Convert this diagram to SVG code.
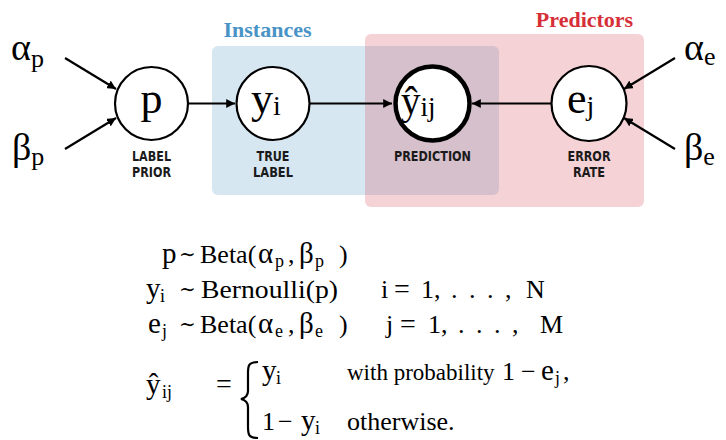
<svg xmlns="http://www.w3.org/2000/svg" width="726" height="440" viewBox="0 0 726 440">
<style>
.node{fill:#fff;stroke:#000;stroke-width:2.2}
.obs{fill:#fff;stroke:#000;stroke-width:4.5}
.edge{stroke:#000;stroke-width:2.2;fill:none}
.m{font-family:"Liberation Serif","DejaVu Serif",serif;fill:#000}
.lbl{font-family:"DejaVu Sans Condensed","Liberation Sans",sans-serif;font-weight:bold;font-size:14px;fill:#1a1a1a;text-anchor:middle}
.title{font-family:"Liberation Serif","DejaVu Serif",serif;font-weight:bold;font-size:22px;text-anchor:middle}
.eq{font-family:"Liberation Serif","DejaVu Serif",serif;font-size:26px;fill:#000}
.g{font-size:29px}
.s{font-size:18px}
.t{font-size:20px}
.q{font-size:28px}
.w{font-size:23px}
</style>
<defs>
<marker id="ah" viewBox="0 0 10 10" refX="10" refY="5" markerWidth="4" markerHeight="4" orient="auto" markerUnits="strokeWidth">
<path d="M0,0 L10,5 L0,10 z" fill="#000"/>
</marker>
</defs>

<g id="plates">
<rect x="212" y="46" width="287" height="149" rx="6" fill="#d6e7f2"/>
<rect x="365" y="34" width="279" height="173" rx="6" fill="#f4d2d6"/>
<path d="M365,46 H493 A6,6 0 0 1 499,52 V189 A6,6 0 0 1 493,195 H365 Z" fill="#d6c0cb"/>
<text class="title" x="267.5" y="37" fill="#4a93c6">Instances</text>
<text class="title" x="584.5" y="27" fill="#d62f38">Predictors</text>
</g>

<g id="connectors">
<line class="edge" x1="65" y1="58" x2="116" y2="89" marker-end="url(#ah)"/>
<line class="edge" x1="65" y1="149" x2="116" y2="118" marker-end="url(#ah)"/>
<line class="edge" x1="188" y1="103.5" x2="235" y2="103.5" marker-end="url(#ah)"/>
<line class="edge" x1="310" y1="103.5" x2="392" y2="103.5" marker-end="url(#ah)"/>
<line class="edge" x1="551" y1="103.5" x2="472" y2="103.5" marker-end="url(#ah)"/>
<line class="edge" x1="675" y1="58" x2="624" y2="89" marker-end="url(#ah)"/>
<line class="edge" x1="675" y1="149" x2="624" y2="118" marker-end="url(#ah)"/>
</g>

<g id="alpha_p"><text class="m" x="11" y="60" font-size="38">α<tspan font-size="26" dy="7">p</tspan></text></g>
<g id="beta_p"><text class="m" x="12" y="160" font-size="38">β<tspan font-size="26" dy="5">p</tspan></text></g>
<g id="alpha_e"><text class="m" x="684" y="60" font-size="38">α<tspan font-size="26" dy="5">e</tspan></text></g>
<g id="beta_e"><text class="m" x="684" y="160" font-size="38">β<tspan font-size="26" dy="5">e</tspan></text></g>

<g id="node_p">
<circle class="node" cx="151.5" cy="103.5" r="36.5"/>
<text class="m" x="151.5" y="113" font-size="44" text-anchor="middle">p</text>
<text class="lbl" x="151.5" y="161" textLength="39" lengthAdjust="spacingAndGlyphs">LABEL</text>
<text class="lbl" x="151.5" y="177" textLength="39" lengthAdjust="spacingAndGlyphs">PRIOR</text>
</g>
<g id="node_y">
<circle class="node" cx="273" cy="103.5" r="36.5"/>
<text class="m" x="251" y="113" font-size="44">y<tspan font-size="28" dy="2">i</tspan></text>
<text class="lbl" x="273" y="161" textLength="33" lengthAdjust="spacingAndGlyphs">TRUE</text>
<text class="lbl" x="273" y="177" textLength="40" lengthAdjust="spacingAndGlyphs">LABEL</text>
</g>
<g id="node_yhat">
<circle class="obs" cx="432.5" cy="103.5" r="37"/>
<text class="m" x="401" y="114" font-size="39">ŷ<tspan font-size="27" dy="2">ij</tspan></text>
<text class="lbl" x="432.5" y="161" textLength="77" lengthAdjust="spacingAndGlyphs">PREDICTION</text>
</g>
<g id="node_e">
<circle class="node" cx="589" cy="103.5" r="37.5"/>
<text class="m" x="567" y="113" font-size="44">e<tspan font-size="28" dy="2">j</tspan></text>
<text class="lbl" x="589" y="161" textLength="43" lengthAdjust="spacingAndGlyphs">ERROR</text>
<text class="lbl" x="589" y="177" textLength="32" lengthAdjust="spacingAndGlyphs">RATE</text>
</g>

<g id="equations">
<text class="eq g" x="162" y="263">p</text>
<text class="eq t" x="179" y="261">∼</text>
<text class="eq" x="200" y="263">Beta(</text>
<text class="eq g" x="258" y="263">α</text>
<text class="eq s" x="275" y="267">p</text>
<text class="eq" x="288" y="263">,</text>
<text class="eq g" x="299" y="263">β</text>
<text class="eq s" x="315" y="267">p</text>
<text class="eq" x="339" y="263">)</text>

<text class="eq g" x="146" y="298">y</text>
<text class="eq s" x="160" y="302">i</text>
<text class="eq t" x="179" y="296">∼</text>
<text class="eq" x="201" y="298" textLength="137" lengthAdjust="spacingAndGlyphs">Bernoulli(p)</text>
<text class="eq" x="381" y="298">i</text>
<text class="eq q" x="394" y="298">=</text>
<text class="eq" x="421" y="298">1,</text>
<text class="eq" x="451" y="298">.</text>
<text class="eq" x="469" y="298">.</text>
<text class="eq" x="487" y="298">.</text>
<text class="eq" x="505" y="298">,</text>
<text class="eq" x="526" y="298">N</text>

<text class="eq g" x="148" y="333">e</text>
<text class="eq s" x="162" y="337">j</text>
<text class="eq t" x="179" y="331">∼</text>
<text class="eq" x="200" y="333">Beta(</text>
<text class="eq g" x="258" y="333">α</text>
<text class="eq s" x="275" y="337">e</text>
<text class="eq" x="288" y="333">,</text>
<text class="eq g" x="299" y="333">β</text>
<text class="eq s" x="315" y="337">e</text>
<text class="eq" x="339" y="333">)</text>
<text class="eq" x="386" y="333">j</text>
<text class="eq q" x="400" y="333">=</text>
<text class="eq" x="428" y="333">1,</text>
<text class="eq" x="458" y="333">.</text>
<text class="eq" x="476" y="333">.</text>
<text class="eq" x="494" y="333">.</text>
<text class="eq" x="512" y="333">,</text>
<text class="eq" x="540" y="333">M</text>

<text class="eq g" x="146" y="394">ŷ</text>
<text class="eq s" x="162" y="398">ij</text>
<text class="eq q" x="216" y="393">=</text>
<path d="M258,362 C247,362 248,367 248,377 L248,391 C248,395 245,398 241,399 C245,400 248,403 248,407 L248,423 C248,433 247,438 258,438" fill="none" stroke="#000" stroke-width="2.2"/>
<text class="eq g" x="262" y="380">y</text>
<text class="eq s" x="276" y="384">i</text>
<text class="eq w" x="347" y="380">with probability</text>
<text class="eq" x="502" y="380">1</text>
<text class="eq" x="521" y="380">−</text>
<text class="eq g" x="541" y="380">e</text>
<text class="eq s" x="555" y="384">j</text>
<text class="eq" x="563" y="380">,</text>
<text class="eq" x="262" y="430">1</text>
<text class="eq" x="278" y="430">−</text>
<text class="eq g" x="301" y="430">y</text>
<text class="eq s" x="315" y="434">i</text>
<text class="eq" x="347" y="430">otherwise.</text>
</g>
</svg>
